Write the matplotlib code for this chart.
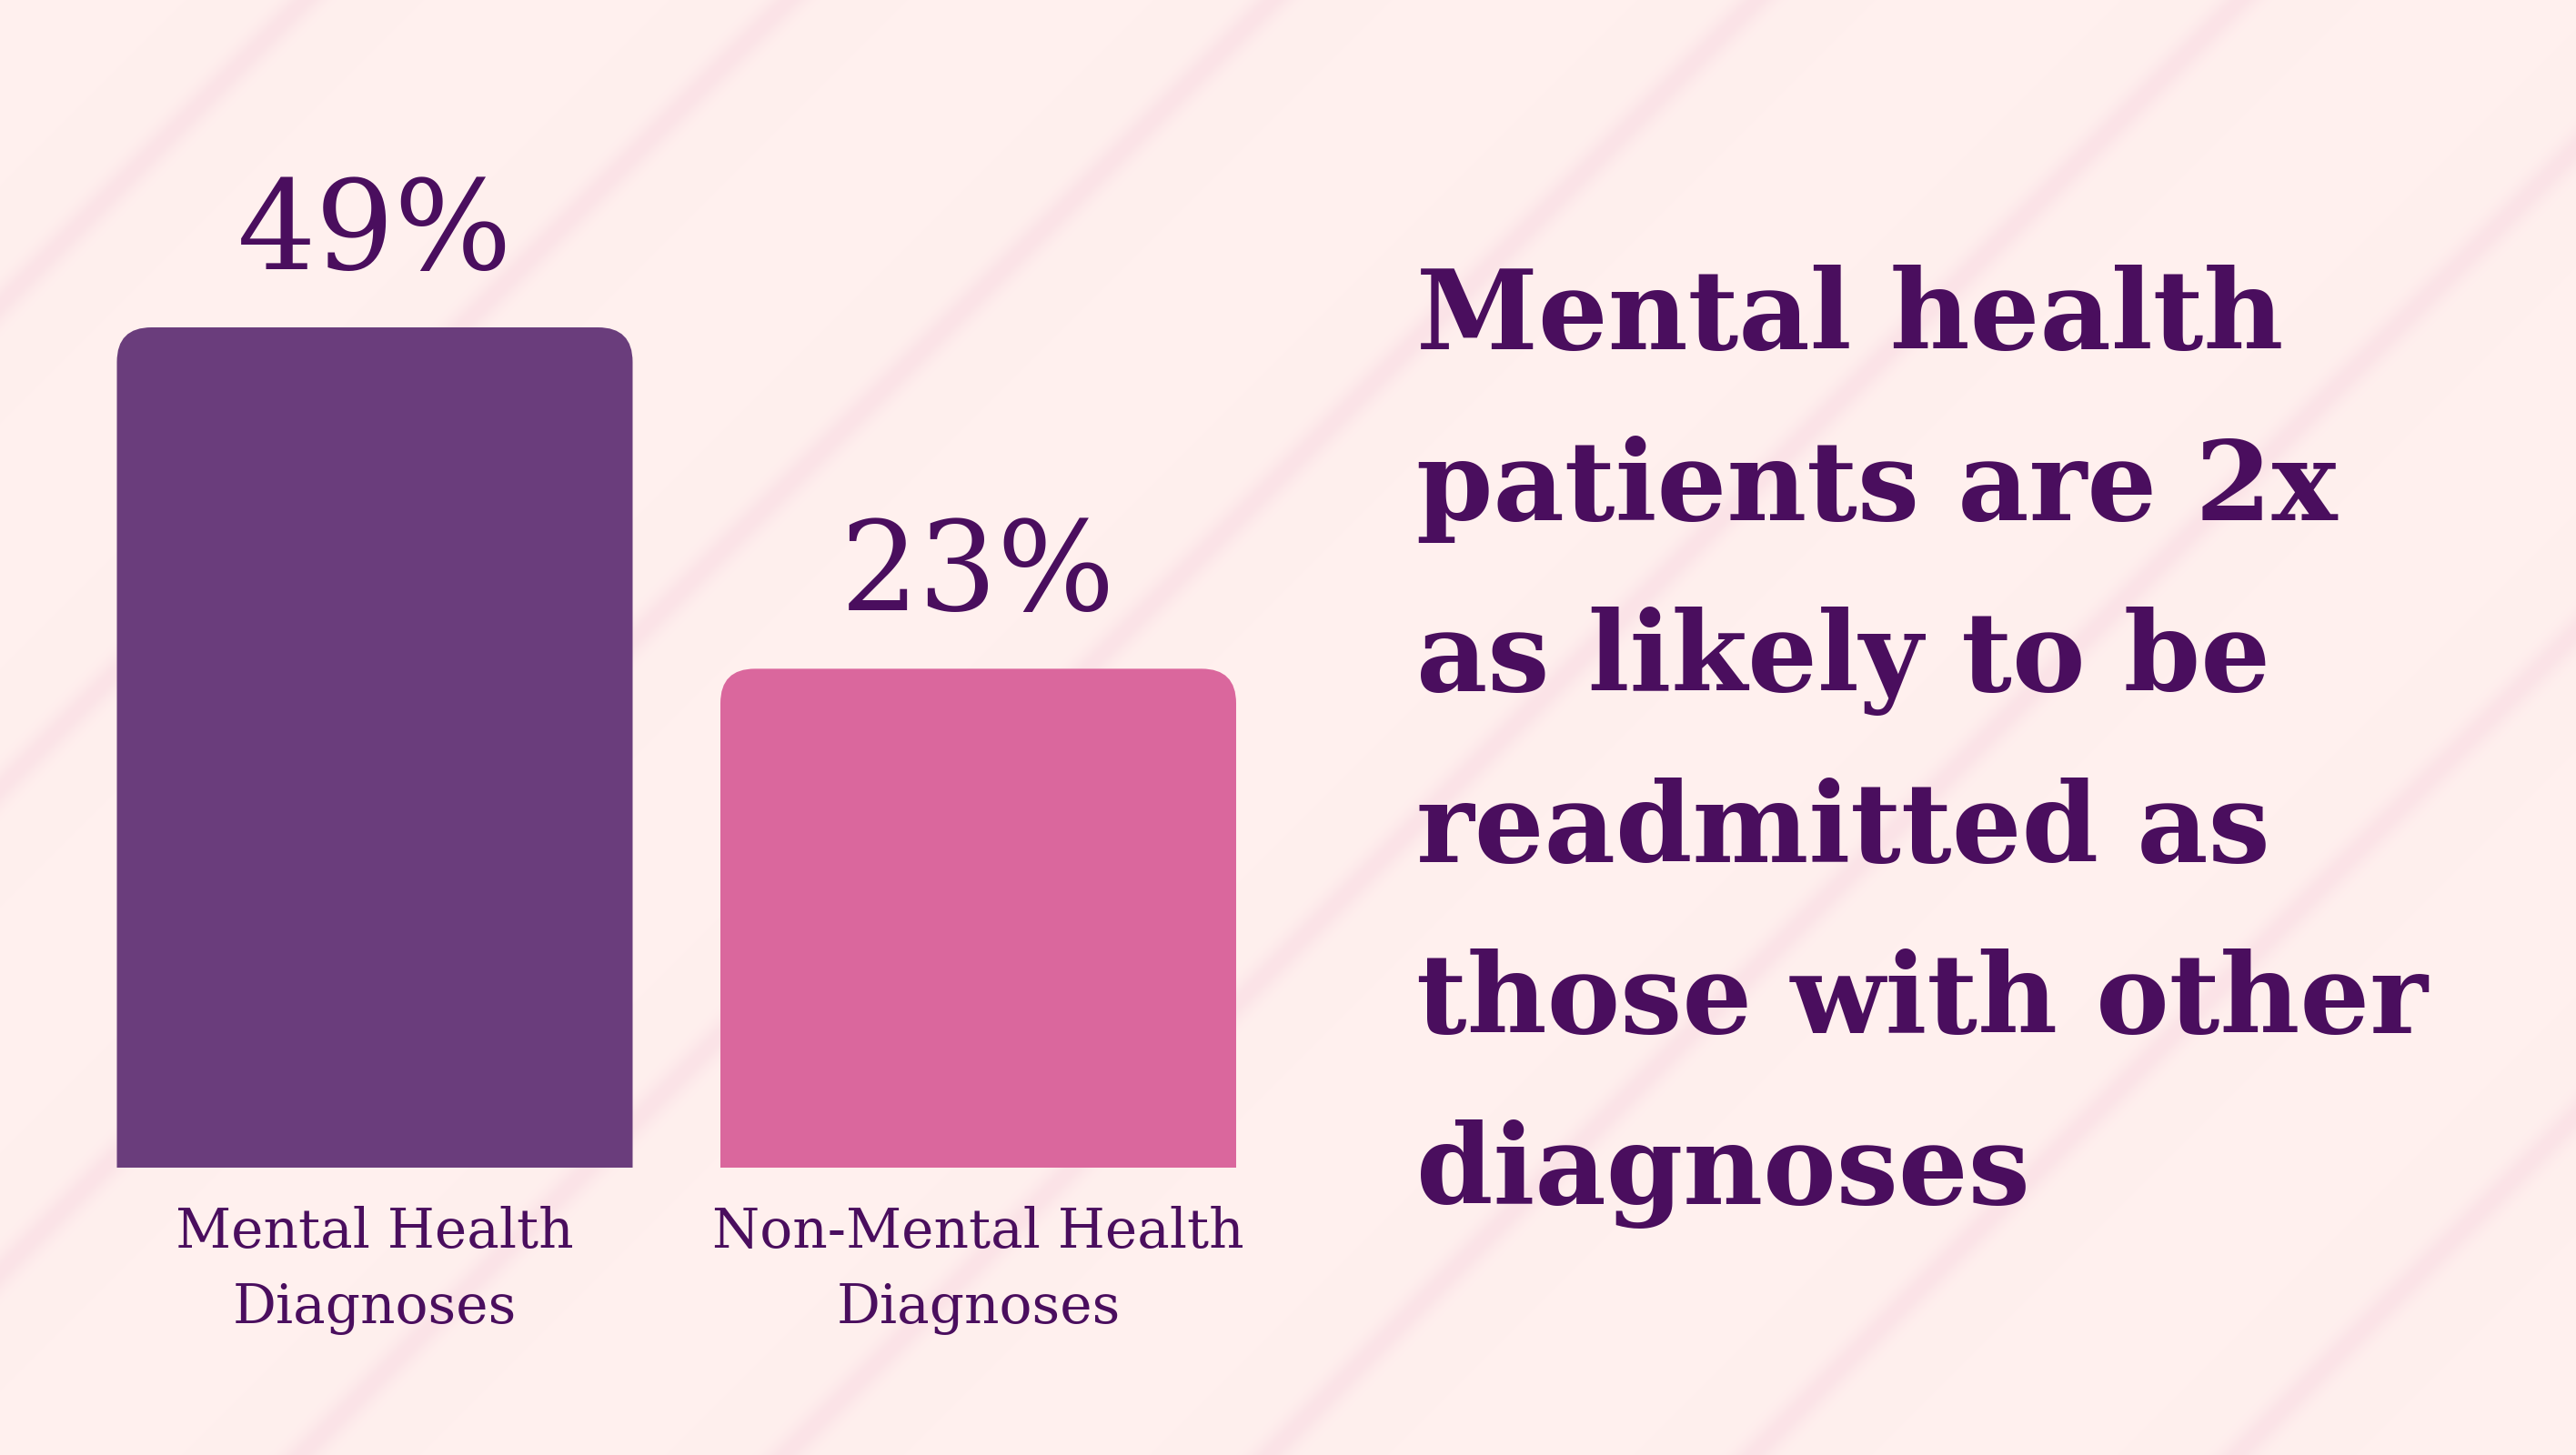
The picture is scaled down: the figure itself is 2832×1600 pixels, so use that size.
import numpy as np
import matplotlib
matplotlib.use('Agg')
import matplotlib.pyplot as plt
from matplotlib.patches import FancyBboxPatch

# data
categories = ['Mental Health\nDiagnoses', 'Non-Mental Health\nDiagnoses']
values = [49, 23]
bar_colors = ['#6a3d7c', '#da679d']
headline = ['Mental health', 'patients are 2x', 'as likely to be',
            'readmitted as', 'those with other', 'diagnoses']

text_color = '#4a0e5e'
bg_color = np.array([255, 240, 238]) / 255
stripe_color = np.array([251, 227, 231]) / 255
floor = 15  # bars don't start at zero in the original

W, H = 2832, 1600
fig = plt.figure(figsize=(W / 100, H / 100), dpi=100)

# background with soft diagonal stripes
bg = fig.add_axes([0, 0, 1, 1])
yy, xx = np.mgrid[0:H, 0:W]
d = np.mod(xx + yy - 334, 532)
dist = np.minimum(d, 532 - d) / np.sqrt(2)
k = np.exp(-(dist / 16.0) ** 2)[..., None]
img = bg_color * (1 - k) + stripe_color * k
bg.imshow(img, extent=(0, W, H, 0), aspect='auto', interpolation='bilinear')
bg.set_xlim(0, W)
bg.set_ylim(H, 0)
bg.axis('off')

# bar axes, pixel layout
ax = fig.add_axes([0, 316 / H, 1500 / W, 1284 / H])
ax.patch.set_alpha(0)
ax.axis('off')
step = 663.5
px_per_unit = 924 / (values[0] + floor)
ax.set_xlim(-412 / step, (1500 - 412) / step)
ax.set_ylim(0, 1284 / px_per_unit)

x = np.arange(len(values))
heights = [v + floor for v in values]
bars = ax.bar(x, heights, width=567 / step, color=bar_colors)

# swap the plain bars for ones with rounded top corners
p0 = ax.transData.transform((0, 0))
p1 = ax.transData.transform((1, 1))
rx = 38 / (p1[0] - p0[0])
ry = 38 / (p1[1] - p0[1])
for b, c in zip(bars, bar_colors):
    bx, by = b.get_xy()
    bw, bh = b.get_width(), b.get_height()
    # push the bottom below the axes so the lower corners get clipped off
    ax.add_patch(FancyBboxPatch((bx, by - 2 * ry), bw, bh + 2 * ry,
                                boxstyle=f'round,pad=0,rounding_size={rx}',
                                mutation_aspect=ry / rx, fc=c, ec='none'))
    b.remove()

for xi, h, v in zip(x, heights, values):
    ax.annotate(f'{v}%', xy=(xi, h), xytext=(0, 46), textcoords='offset points',
                ha='center', va='baseline', fontsize=98, color=text_color,
                family='DejaVu Serif')

for xi, lab in zip(x, categories):
    for j, line in enumerate(lab.split('\n')):
        ax.annotate(line, xy=(xi, 0), xytext=(0, -(88 + 83 * j) * 0.72),
                    textcoords='offset points', ha='center', va='baseline',
                    fontsize=43, color=text_color, family='DejaVu Serif',
                    annotation_clip=False)

# headline on the right
for i, line in enumerate(headline):
    bg.text(1557, 384 + 188 * i, line, ha='left', va='baseline',
            fontsize=87, fontweight='bold', color=text_color,
            family='DejaVu Serif')

fig.savefig('out.png', dpi=100)
